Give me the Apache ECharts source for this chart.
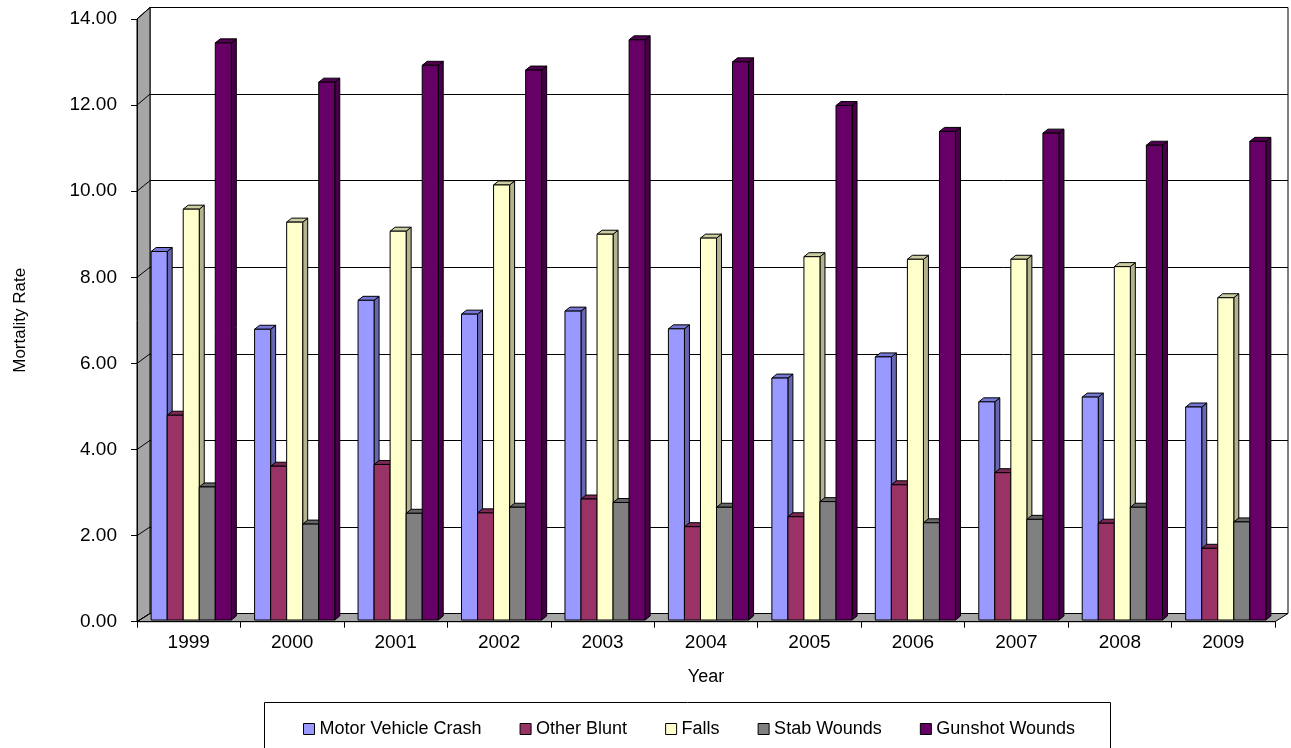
<!DOCTYPE html>
<html>
<head>
<meta charset="utf-8">
<script src="https://cdn.jsdelivr.net/npm/echarts@6/dist/echarts.min.js"></script>
<style>
html,body{margin:0;padding:0;background:#fff;}
#c{width:1291px;height:748px;}
</style>
</head>
<body>
<div id="c"></div>
<script>
// ---- data ----
const categories = ['1999','2000','2001','2002','2003','2004','2005','2006','2007','2008','2009'];
const seriesNames = ['Motor Vehicle Crash','Other Blunt','Falls','Stab Wounds','Gunshot Wounds'];
const motorVehicleCrash = [8.53, 6.73, 7.40, 7.08, 7.15, 6.74, 5.60, 6.09, 5.05, 5.16, 4.93];
const otherBlunt        = [4.74, 3.56, 3.60, 2.48, 2.80, 2.16, 2.39, 3.13, 3.41, 2.24, 1.66];
const falls             = [9.51, 9.21, 9.00, 10.07, 8.93, 8.84, 8.41, 8.35, 8.35, 8.18, 7.46];
const stabWounds        = [3.08, 2.22, 2.47, 2.61, 2.72, 2.61, 2.74, 2.25, 2.33, 2.61, 2.27];
const gunshotWounds     = [13.36, 12.45, 12.84, 12.73, 13.43, 12.92, 11.91, 11.31, 11.27, 10.99, 11.08];
const yTicks = [0, 2, 4, 6, 8, 10, 12, 14];

const allValues = [motorVehicleCrash, otherBlunt, falls, stabWounds, gunshotWounds];

// ---- styles ----
const faceColors = [
  {front:'#9999FF', side:'#6666B3', top:'#7777D6'},
  {front:'#993366', side:'#6B2447', top:'#7A2952'},
  {front:'#FFFFCC', side:'#B3B38F', top:'#CCCCA3'},
  {front:'#808080', side:'#5A5A5A', top:'#666666'},
  {front:'#660066', side:'#470047', top:'#520052'}
];
const FONT = "'Liberation Sans', Arial, sans-serif";
const W = 1291, H = 748;
// front plane
const FL = 137, FR = 1275, FT = 19, FB = 621.7;
// back wall
const BL = 150, BR = 1288, BT = 7.5, BB = 613.5;
// bars plane
const PL = 139.5, PR = 1277.5, PT = 15.2, PB = 620;
const YMAX = 14;
const DX = 5, DY = 4;

function makeRender(k) {
  const col = faceColors[k];
  return function (params, api) {
    const idx = api.value(0);
    const val = api.value(1);
    const base = api.coord([idx, 0]);
    const top = api.coord([idx, val]);
    const band = api.size([1, 0])[0];
    const w = band * 0.155;
    const x = base[0] - 2.5 * w + k * w;
    const yt = top[1], yb = base[1];
    const line = {stroke:'#000', lineWidth:1};
    return {
      type: 'group',
      children: [
        {type:'polygon', shape:{points:[[x+w,yt],[x+w+DX,yt-DY],[x+w+DX,yb-DY],[x+w,yb]]},
         style:Object.assign({fill:col.side}, line)},
        {type:'polygon', shape:{points:[[x,yt],[x+DX,yt-DY],[x+w+DX,yt-DY],[x+w,yt]]},
         style:Object.assign({fill:col.top}, line)},
        {type:'rect', shape:{x:x, y:yt, width:w, height:yb-yt},
         style:Object.assign({fill:col.front}, line)}
      ]
    };
  };
}

const series = seriesNames.map(function (name, k) {
  return {
    name: name,
    type: 'custom',
    xAxisIndex: 2,
    yAxisIndex: 2,
    z: 5,
    itemStyle: {color: faceColors[k].front, borderColor:'#000', borderWidth:1},
    renderItem: makeRender(k),
    encode: {x: 0, y: 1},
    data: allValues[k].map(function (v, i) { return [i, v]; })
  };
});

// wall decorations
function yFront(v) { return FB - v / YMAX * (FB - FT); }
function yBack(v) { return BB - v / YMAX * (BB - BT); }
const graphics = [
  {type:'polygon', z:1, shape:{points:[[FL,FT],[BL,BT],[BL,BB],[FL,FB]]},
   style:{fill:'#A6A6A6', stroke:'#000', lineWidth:1}},
  {type:'polygon', z:1, shape:{points:[[FL,FB],[BL,BB],[BR,BB],[FR,FB]]},
   style:{fill:'#A6A6A6', stroke:'#000', lineWidth:1}},
  {type:'rect', z:1, shape:{x:264.5, y:702.5, width:846, height:60},
   style:{fill:'none', stroke:'#000', lineWidth:1}}
];
yTicks.forEach(function (v) {
  graphics.push({type:'line', z:2, shape:{x1:FL, y1:yFront(v), x2:BL, y2:yBack(v)},
    style:{stroke:'#000', lineWidth:1}});
});

const option = {
  backgroundColor: '#fff',
  animation: false,
  textStyle: {fontFamily: FONT},
  grid: [
    {left: BL, right: W - BR, top: BT, bottom: H - BB, show: true, borderColor: '#000', borderWidth: 1, backgroundColor: '#fff'},
    {left: FL, right: W - FR, top: FT, bottom: H - FB},
    {left: PL, right: W - PR, top: PT, bottom: H - PB}
  ],
  xAxis: [
    {gridIndex: 0, type: 'category', data: categories, show: false},
    {gridIndex: 1, type: 'category', data: categories, z: 6,
     axisLine: {show: true, lineStyle: {color: '#000', width: 1}},
     axisTick: {show: true, length: 6, lineStyle: {color: '#000'}},
     axisLabel: {color: '#000', fontSize: 19, margin: 12, fontFamily: FONT},
     name: 'Year', nameLocation: 'middle', nameGap: 46,
     nameTextStyle: {color: '#000', fontSize: 18, fontFamily: FONT}},
    {gridIndex: 2, type: 'category', data: categories, show: false}
  ],
  yAxis: [
    {gridIndex: 0, type: 'value', min: 0, max: YMAX, interval: 2,
     axisLine: {show: false}, axisTick: {show: false}, axisLabel: {show: false},
     splitLine: {show: true, lineStyle: {color: '#000', width: 1}}},
    {gridIndex: 1, type: 'value', min: 0, max: YMAX, interval: 2, z: 6,
     axisLine: {show: true, lineStyle: {color: '#000', width: 1}},
     axisTick: {show: true, length: 6, lineStyle: {color: '#000'}},
     axisLabel: {color: '#000', fontSize: 19, margin: 20, fontFamily: FONT,
                 formatter: function (v) { return v.toFixed(2); }},
     splitLine: {show: false},
     name: 'Mortality Rate', nameLocation: 'middle', nameGap: 108,
     nameTextStyle: {color: '#000', fontSize: 17, fontFamily: FONT}},
    {gridIndex: 2, type: 'value', min: 0, max: YMAX, interval: 2, show: false, splitLine: {show: false}}
  ],
  legend: {
    left: 303, top: 720, padding: 0,
    itemWidth: 11, itemHeight: 11, itemGap: 38,
    icon: 'rect',
    textStyle: {color: '#000', fontSize: 18, fontFamily: FONT},
    data: seriesNames.map(function (n, k) {
      return {name: n, itemStyle: {color: faceColors[k].front, borderColor: '#000', borderWidth: 1}};
    })
  },
  graphic: graphics,
  series: series
};

const chart = echarts.init(document.getElementById('c'), null, {renderer: 'canvas'});
chart.setOption(option);
</script>
</body>
</html>
